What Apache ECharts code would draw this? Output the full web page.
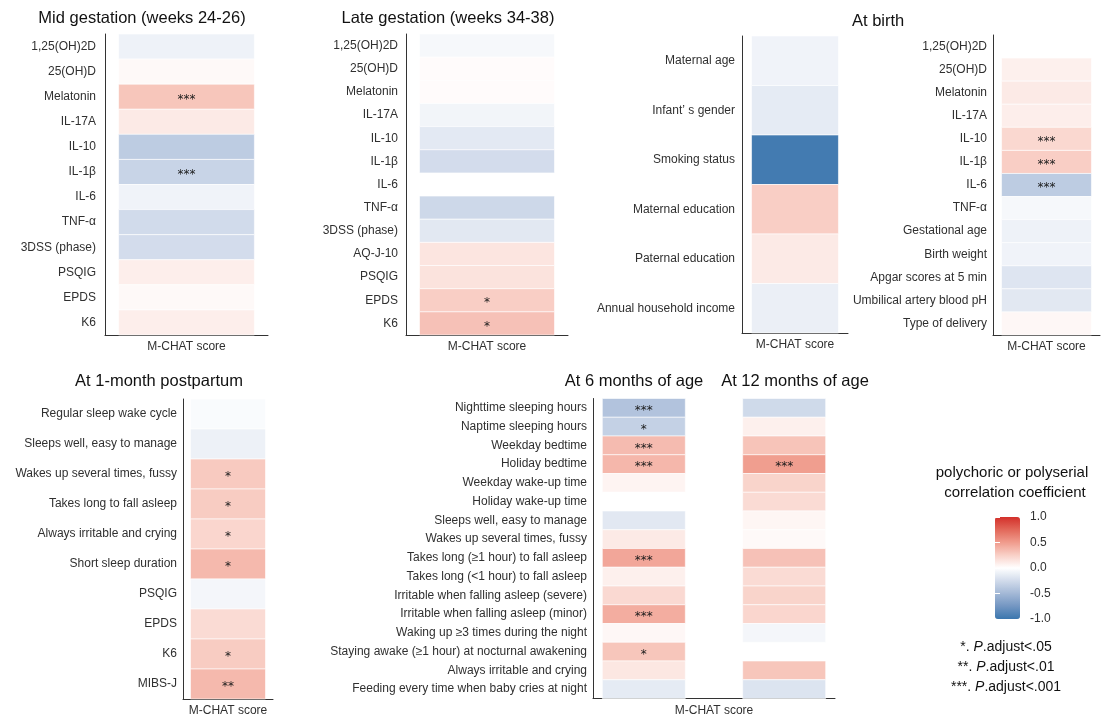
<!DOCTYPE html>
<html>
<head>
<meta charset="utf-8">
<title>Correlations with M-CHAT score</title>
<script src="https://cdn.jsdelivr.net/npm/echarts@6.0.0/dist/echarts.min.js"></script>
<style>
  html, body { margin: 0; padding: 0; background: #fff; }
  #chart { width: 1104px; height: 722px; }
</style>
</head>
<body>
<div id="chart"></div>
<script>
// ---- Correlation coefficients with M-CHAT score, per time point ----
const xCategory = ['M-CHAT score'];

const midCats = ['1,25(OH)2D', '25(OH)D', 'Melatonin', 'IL-17A', 'IL-10', 'IL-1β', 'IL-6', 'TNF-α', '3DSS (phase)', 'PSQIG', 'EPDS', 'K6'];
const midVals = [-0.09, 0.03, 0.30, 0.11, -0.36, -0.30, -0.08, -0.25, -0.24, 0.09, 0.03, 0.09];
const midSig  = ['', '', '***', '', '', '***', '', '', '', '', '', ''];

const lateCats = ['1,25(OH)2D', '25(OH)D', 'Melatonin', 'IL-17A', 'IL-10', 'IL-1β', 'IL-6', 'TNF-α', '3DSS (phase)', 'AQ-J-10', 'PSQIG', 'EPDS', 'K6'];
const lateVals = [-0.05, 0.02, 0.02, -0.07, -0.15, -0.24, null, -0.27, -0.16, 0.14, 0.15, 0.26, 0.32];
const lateSig  = ['', '', '', '', '', '', '', '', '', '', '', '*', '*'];

const covCats = ['Maternal age', 'Infant’ s gender', 'Smoking status', 'Maternal education', 'Paternal education', 'Annual household income'];
const covVals = [-0.08, -0.14, -0.96, 0.26, 0.11, -0.11];
const covSig  = ['', '', '', '', '', ''];

const birthCats = ['1,25(OH)2D', '25(OH)D', 'Melatonin', 'IL-17A', 'IL-10', 'IL-1β', 'IL-6', 'TNF-α', 'Gestational age', 'Birth weight', 'Apgar scores at 5 min', 'Umbilical artery blood pH', 'Type of delivery'];
const birthVals = [null, 0.08, 0.11, 0.09, 0.21, 0.26, -0.36, -0.05, -0.09, -0.08, -0.18, -0.16, 0.04];
const birthSig  = ['', '', '', '', '***', '***', '***', '', '', '', '', '', ''];

const month1Cats = ['Regular sleep wake cycle', 'Sleeps well, easy to manage', 'Wakes up several times, fussy', 'Takes long to fall asleep', 'Always irritable and crying', 'Short sleep duration', 'PSQIG', 'EPDS', 'K6', 'MIBS-J'];
const month1Vals = [-0.03, -0.10, 0.28, 0.27, 0.22, 0.36, -0.06, 0.19, 0.27, 0.36];
const month1Sig  = ['', '', '*', '*', '*', '*', '', '', '*', '**'];

const infantCats = ['Nighttime sleeping hours', 'Naptime sleeping hours', 'Weekday bedtime', 'Holiday bedtime', 'Weekday wake-up time', 'Holiday wake-up time', 'Sleeps well, easy to manage', 'Wakes up several times, fussy', 'Takes long (≥1 hour) to fall asleep', 'Takes long (<1 hour) to fall asleep', 'Irritable when falling asleep (severe)', 'Irritable when falling asleep (minor)', 'Waking up ≥3 times during the night', 'Staying awake (≥1 hour) at nocturnal awakening', 'Always irritable and crying', 'Feeding every time when baby cries at night'];
const month6Vals  = [-0.42, -0.32, 0.35, 0.37, 0.06, 0.00, -0.16, 0.11, 0.45, 0.08, 0.20, 0.42, 0.04, 0.30, 0.13, -0.14];
const month6Sig   = ['***', '*', '***', '***', '', '', '', '', '***', '', '', '***', '', '*', '', ''];
const month12Vals = [-0.26, 0.08, 0.31, 0.49, 0.23, 0.19, 0.05, 0.03, 0.32, 0.19, 0.23, 0.22, -0.06, null, 0.30, -0.19];
const month12Sig  = ['', '', '', '***', '', '', '', '', '', '', '', '', '', '', '', ''];

const legendTitle = ['polychoric or polyserial', 'correlation coefficient'];
const sigNotes = [['*', '.05'], ['**', '.01'], ['***', '.001']];

// ---- Layout ----
const FONT = '"Liberation Sans", Arial, Helvetica, sans-serif';
const AXIS_COLOR = '#333333';
const LABEL_COLOR = '#303030';

// diverging ramp (blue - white - red), sampled along a perceptual path
const ramp = ['#3A76AE', '#7396C2', '#A3B8D6', '#D1DBEB', '#FFFFFF', '#F9D0C7', '#F09C8D', '#E2685A', '#D3302A'];

const panels = [
  { cats: midCats,    rect: { left: 105, top: 34,  width: 163, height: 301 }, margin: 9,
    cols: [{ vals: midVals, sig: midSig, off: 0, w: 0.833 }] },
  { cats: lateCats,   rect: { left: 406, top: 34,  width: 162, height: 301 }, margin: 8,
    cols: [{ vals: lateVals, sig: lateSig, off: 0, w: 0.833 }] },
  { cats: covCats,    rect: { left: 742, top: 36,  width: 106, height: 297 }, margin: 7,
    cols: [{ vals: covVals, sig: covSig, off: 0, w: 0.82 }] },
  { cats: birthCats,  rect: { left: 993, top: 35,  width: 107, height: 300 }, margin: 6,
    cols: [{ vals: birthVals, sig: birthSig, off: 0, w: 0.84 }] },
  { cats: month1Cats, rect: { left: 183, top: 399, width: 90,  height: 300 }, margin: 6,
    cols: [{ vals: month1Vals, sig: month1Sig, off: 0, w: 0.833 }] },
  { cats: infantCats, rect: { left: 593, top: 398.5, width: 242, height: 300 }, margin: 6,
    cols: [{ vals: month6Vals, sig: month6Sig, off: -0.29, w: 0.343 },
           { vals: month12Vals, sig: month12Sig, off: 0.29, w: 0.343 }] }
];

function tileRenderer(col) {
  return function (params, api) {
    const v = api.value(2);
    if (v == null || isNaN(v)) return;
    const row = api.value(1);
    const c = api.coord([api.value(0), row]);
    const band = api.size([1, 1]);
    const w = band[0] * col.w;
    const h = band[1];
    const x = c[0] + col.off * band[0] - w / 2;
    const y = c[1] - h / 2;
    const children = [{
      type: 'rect',
      shape: { x: x, y: y, width: w, height: h },
      style: { fill: api.visual('color'), stroke: '#ffffff', lineWidth: 0.6 }
    }];
    const s = col.sig[row];
    if (s) {
      children.push({
        type: 'text',
        x: x + w / 2,
        y: c[1] + 3,
        style: { text: s, align: 'center', verticalAlign: 'middle', fill: '#1a1a1a', font: '12px "DejaVu Sans", sans-serif' }
      });
    }
    return { type: 'group', children: children };
  };
}

const grid = [], xAxis = [], yAxis = [], series = [];
panels.forEach(function (p, gi) {
  grid.push(Object.assign({ containLabel: false, outerBoundsMode: 'none' }, p.rect));
  xAxis.push({
    gridIndex: gi, type: 'category', data: xCategory, boundaryGap: true,
    axisLine: { lineStyle: { color: AXIS_COLOR, width: 1 } },
    axisTick: { alignWithLabel: true, length: 3, lineStyle: { color: AXIS_COLOR } },
    axisLabel: { margin: 6, fontSize: 12, fontFamily: FONT, color: LABEL_COLOR },
    splitLine: { show: false }
  });
  yAxis.push({
    gridIndex: gi, type: 'category', data: p.cats, inverse: true, boundaryGap: true,
    axisLine: { lineStyle: { color: AXIS_COLOR, width: 1 } },
    axisTick: { alignWithLabel: true, length: 3, lineStyle: { color: AXIS_COLOR } },
    axisLabel: { margin: p.margin, fontSize: 12, fontFamily: FONT, color: LABEL_COLOR, interval: 0 },
    splitLine: { show: false }
  });
  p.cols.forEach(function (col) {
    const data = [];
    col.vals.forEach(function (v, i) { if (v !== null) data.push([0, i, v]); });
    series.push({
      type: 'custom', xAxisIndex: gi, yAxisIndex: gi,
      renderItem: tileRenderer(col), data: data, silent: true, z: 2
    });
  });
});

// colour bar scale
const LEG = { left: 995, top: 517, width: 25, height: 102 };
const legGrid = grid.length;
grid.push(Object.assign({ containLabel: false, outerBoundsMode: 'none' }, LEG));
xAxis.push({ gridIndex: legGrid, type: 'value', show: false, min: 0, max: 1 });
yAxis.push({
  gridIndex: legGrid, type: 'value', position: 'right', min: -1, max: 1, interval: 0.5, z: 10,
  axisLine: { show: false }, splitLine: { show: false },
  axisTick: { show: true, inside: true, length: 5, lineStyle: { color: '#ffffff', width: 1 } },
  axisLabel: { margin: 10, fontSize: 12, fontFamily: FONT, color: LABEL_COLOR, formatter: function (v) { return v.toFixed(1); } }
});
yAxis.push({
  gridIndex: legGrid, type: 'value', position: 'left', min: -1, max: 1, interval: 0.5, z: 10,
  axisLine: { show: false }, splitLine: { show: false },
  axisTick: { show: true, inside: true, length: 5, lineStyle: { color: '#ffffff', width: 1 } },
  axisLabel: { show: false }
});

function label(text, x, y, size, align) {
  return {
    type: 'text', x: x, y: y, silent: true,
    style: { text: text, align: align || 'center', verticalAlign: 'middle', fill: '#111111', font: size + 'px ' + FONT }
  };
}

const graphics = [
  label('Mid gestation (weeks 24-26)', 142, 18, 16.5),
  label('Late gestation (weeks 34-38)', 448, 18, 16.5),
  label('At birth', 852, 21, 16.5, 'left'),
  label('At 1-month postpartum', 159, 381, 16.5),
  label('At 6 months of age', 634, 381, 16.5),
  label('At 12 months of age', 795, 381, 16.5),
  label(legendTitle[0], 1012, 473, 15),
  label(legendTitle[1], 1015, 493, 15)
];
sigNotes.forEach(function (n, i) {
  graphics.push({
    type: 'text', x: 1006, y: 647 + i * 20, silent: true,
    style: {
      text: '{n|' + n[0] + '. }{i|P}{n|.adjust<' + n[1] + '}',
      align: 'center', verticalAlign: 'middle',
      rich: {
        n: { font: '14px ' + FONT, fill: '#111111' },
        i: { font: 'italic 14px ' + FONT, fill: '#111111' }
      }
    }
  });
});

const chart = echarts.init(document.getElementById('chart'), null, { renderer: 'canvas' });
chart.setOption({
  backgroundColor: '#ffffff',
  animation: false,
  grid: grid,
  xAxis: xAxis,
  yAxis: yAxis,
  visualMap: {
    type: 'continuous', min: -1, max: 1, dimension: 2,
    seriesIndex: series.map(function (s, i) { return i; }),
    inRange: { color: ramp },
    calculable: false, hoverLink: false, text: null,
    orient: 'vertical', left: LEG.left, top: LEG.top, padding: 0,
    itemWidth: LEG.width, itemHeight: LEG.height
  },
  series: series,
  graphic: graphics
});
</script>
</body>
</html>
